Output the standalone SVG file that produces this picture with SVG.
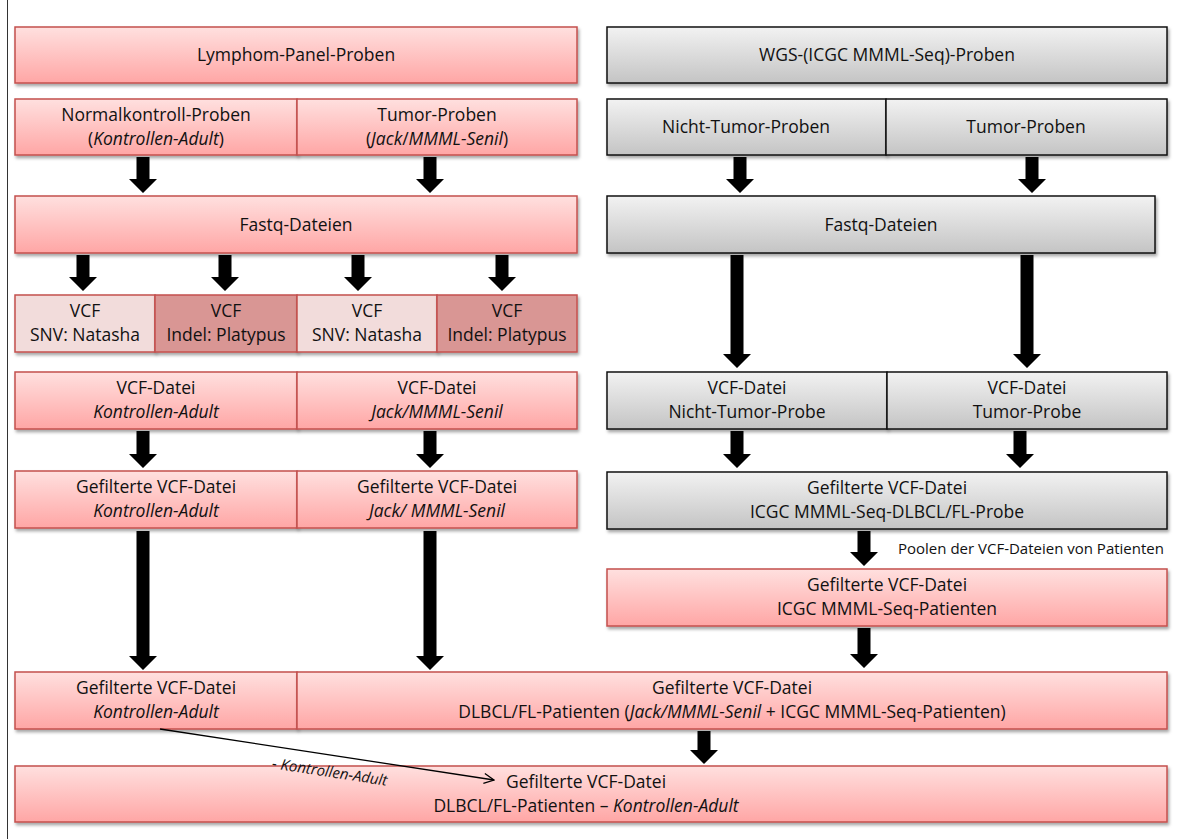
<svg xmlns="http://www.w3.org/2000/svg" width="1179" height="839" viewBox="0 0 1179 839">
<defs>
<linearGradient id="gr" x1="0" y1="0" x2="0" y2="1"><stop offset="0" stop-color="#ffe0df"/><stop offset="1" stop-color="#ffa6a5"/></linearGradient>
<linearGradient id="gg" x1="0" y1="0" x2="0" y2="1"><stop offset="0" stop-color="#f2f2f2"/><stop offset="1" stop-color="#c4c4c4"/></linearGradient>
<filter id="sh" x="-5%" y="-20%" width="110%" height="150%"><feDropShadow dx="1.5" dy="2.5" stdDeviation="1.8" flood-color="#000" flood-opacity="0.35"/></filter>
<marker id="open" viewBox="0 0 12 12" refX="11" refY="6" markerWidth="12" markerHeight="12" markerUnits="userSpaceOnUse" orient="auto"><path d="M1,1 L11,6 L1,11" fill="none" stroke="#000" stroke-width="1.3"/></marker>
</defs>
<style>
.red{fill:url(#gr);stroke:#c4504e;stroke-width:1.5;filter:url(#sh)}
.gray{fill:url(#gg);stroke:#111;stroke-width:1.5;filter:url(#sh)}
.snv{fill:#f2dcdb;stroke:#c4504e;stroke-width:1.5;filter:url(#sh)}
.ind{fill:#d99694;stroke:#c4504e;stroke-width:1.5;filter:url(#sh)}
text{font-family:"Open Sans","Liberation Sans",sans-serif;font-size:17.5px;fill:#111;text-anchor:middle}
.i{font-style:italic}
.small{font-size:15px;text-anchor:start}
.lbl{font-size:15px;font-style:italic}
.arr{fill:#000}
</style>
<line x1="7.5" y1="0" x2="7.5" y2="839" stroke="#333" stroke-width="1"/>

<g id="n1"><rect class="red" x="15" y="27" width="562" height="56"/><text x="296" y="61">Lymphom-Panel-Proben</text></g>
<g id="n2a"><rect class="red" x="15" y="99" width="282" height="56"/><text x="156" y="121">Normalkontroll-Proben</text><text x="156" y="145">(<tspan class="i">Kontrollen-Adult</tspan>)</text></g>
<g id="n2b"><rect class="red" x="297" y="99" width="280" height="56"/><text x="437" y="121">Tumor-Proben</text><text x="437" y="145">(<tspan class="i">Jack</tspan>/<tspan class="i">MMML-Senil</tspan>)</text></g>
<g id="n3"><rect class="red" x="15" y="196" width="562" height="57"/><text x="296" y="231">Fastq-Dateien</text></g>
<g id="n4a"><rect class="snv" x="15" y="295" width="140" height="57"/><text x="85" y="317">VCF</text><text x="85" y="341">SNV: Natasha</text></g>
<g id="n4b"><rect class="ind" x="155" y="295" width="142" height="57"/><text x="226" y="317">VCF</text><text x="226" y="341">Indel: Platypus</text></g>
<g id="n4c"><rect class="snv" x="297" y="295" width="140" height="57"/><text x="367" y="317">VCF</text><text x="367" y="341">SNV: Natasha</text></g>
<g id="n4d"><rect class="ind" x="437" y="295" width="140" height="57"/><text x="507" y="317">VCF</text><text x="507" y="341">Indel: Platypus</text></g>
<g id="n5a"><rect class="red" x="15" y="372" width="282" height="57"/><text x="156" y="394">VCF-Datei</text><text x="156" y="418" class="i">Kontrollen-Adult</text></g>
<g id="n5b"><rect class="red" x="297" y="372" width="280" height="57"/><text x="437" y="394">VCF-Datei</text><text x="437" y="418" class="i">Jack/MMML-Senil</text></g>
<g id="n6a"><rect class="red" x="15" y="471" width="282" height="57"/><text x="156" y="493">Gefilterte VCF-Datei</text><text x="156" y="517" class="i">Kontrollen-Adult</text></g>
<g id="n6b"><rect class="red" x="297" y="471" width="280" height="57"/><text x="437" y="493">Gefilterte VCF-Datei</text><text x="437" y="517" class="i">Jack/ MMML-Senil</text></g>
<g id="n7a"><rect class="red" x="15" y="672" width="282" height="57"/><text x="156" y="694">Gefilterte VCF-Datei</text><text x="156" y="718" class="i">Kontrollen-Adult</text></g>
<g id="n7b"><rect class="red" x="297" y="672" width="870" height="57"/><text x="732" y="694">Gefilterte VCF-Datei</text><text x="732" y="718">DLBCL/FL-Patienten (<tspan class="i">Jack/MMML-Senil</tspan> + ICGC MMML-Seq-Patienten)</text></g>
<g id="n8"><rect class="red" x="15" y="766" width="1152" height="56"/><text x="586" y="788">Gefilterte VCF-Datei</text><text x="586" y="812">DLBCL/FL-Patienten – <tspan class="i">Kontrollen-Adult</tspan></text></g>

<g id="m1"><rect class="gray" x="607" y="27" width="560" height="56"/><text x="887" y="61">WGS-(ICGC MMML-Seq)-Proben</text></g>
<g id="m2a"><rect class="gray" x="607" y="99" width="279" height="56"/><text x="746" y="133">Nicht-Tumor-Proben</text></g>
<g id="m2b"><rect class="gray" x="886" y="99" width="281" height="56"/><text x="1026" y="133">Tumor-Proben</text></g>
<g id="m3"><rect class="gray" x="607" y="196" width="548" height="57"/><text x="881" y="231">Fastq-Dateien</text></g>
<g id="m4a"><rect class="gray" x="607" y="372" width="280" height="57"/><text x="747" y="394">VCF-Datei</text><text x="747" y="418">Nicht-Tumor-Probe</text></g>
<g id="m4b"><rect class="gray" x="887" y="372" width="280" height="57"/><text x="1027" y="394">VCF-Datei</text><text x="1027" y="418">Tumor-Probe</text></g>
<g id="m5"><rect class="gray" x="607" y="472" width="560" height="57"/><text x="887" y="494">Gefilterte VCF-Datei</text><text x="887" y="518">ICGC MMML-Seq-DLBCL/FL-Probe</text></g>
<g id="m6"><rect class="red" x="607" y="569" width="560" height="57"/><text x="887" y="591">Gefilterte VCF-Datei</text><text x="887" y="615">ICGC MMML-Seq-Patienten</text></g>

<g id="connectors">
<path class="arr" d="M136.5,157 H149.5 V179 H157 L143,193 L129,179 H136.5 Z"/>
<path class="arr" d="M423.5,157 H436.5 V179 H444 L430,193 L416,179 H423.5 Z"/>
<path class="arr" d="M733.5,157 H746.5 V179 H754 L740,193 L726,179 H733.5 Z"/>
<path class="arr" d="M1025.5,157 H1038.5 V179 H1046 L1032,193 L1018,179 H1025.5 Z"/>
<path class="arr" d="M76.5,255 H89.5 V277 H97 L83,291 L69,277 H76.5 Z"/>
<path class="arr" d="M218.5,255 H231.5 V277 H239 L225,291 L211,277 H218.5 Z"/>
<path class="arr" d="M351.5,255 H364.5 V277 H372 L358,291 L344,277 H351.5 Z"/>
<path class="arr" d="M495.5,255 H508.5 V277 H516 L502,291 L488,277 H495.5 Z"/>
<path class="arr" d="M730.5,255 H743.5 V354 H751 L737,368 L723,354 H730.5 Z"/>
<path class="arr" d="M1020.5,255 H1033.5 V354 H1041 L1027,368 L1013,354 H1020.5 Z"/>
<path class="arr" d="M136.5,431 H149.5 V454 H157 L143,468 L129,454 H136.5 Z"/>
<path class="arr" d="M423.5,431 H436.5 V454 H444 L430,468 L416,454 H423.5 Z"/>
<path class="arr" d="M730.5,431 H743.5 V454 H751 L737,468 L723,454 H730.5 Z"/>
<path class="arr" d="M1013.5,431 H1026.5 V454 H1034 L1020,468 L1006,454 H1013.5 Z"/>
<path class="arr" d="M136.5,531 H149.5 V656 H157 L143,670 L129,656 H136.5 Z"/>
<path class="arr" d="M423.5,531 H436.5 V656 H444 L430,670 L416,656 H423.5 Z"/>
<path class="arr" d="M857.5,531 H870.5 V552 H878 L864,566 L850,552 H857.5 Z"/>
<path class="arr" d="M857.5,628 H870.5 V654 H878 L864,668 L850,654 H857.5 Z"/>
<path class="arr" d="M697.5,731 H710.5 V750 H718 L704,764 L690,750 H697.5 Z"/>
<line x1="160" y1="729" x2="494" y2="780" stroke="#000" stroke-width="1.3" marker-end="url(#open)"/>
<text class="lbl" transform="translate(329,777) rotate(8.7)">- Kontrollen-Adult</text>
<text class="small" x="898" y="554">Poolen der VCF-Dateien von Patienten</text>
</g>
</svg>
